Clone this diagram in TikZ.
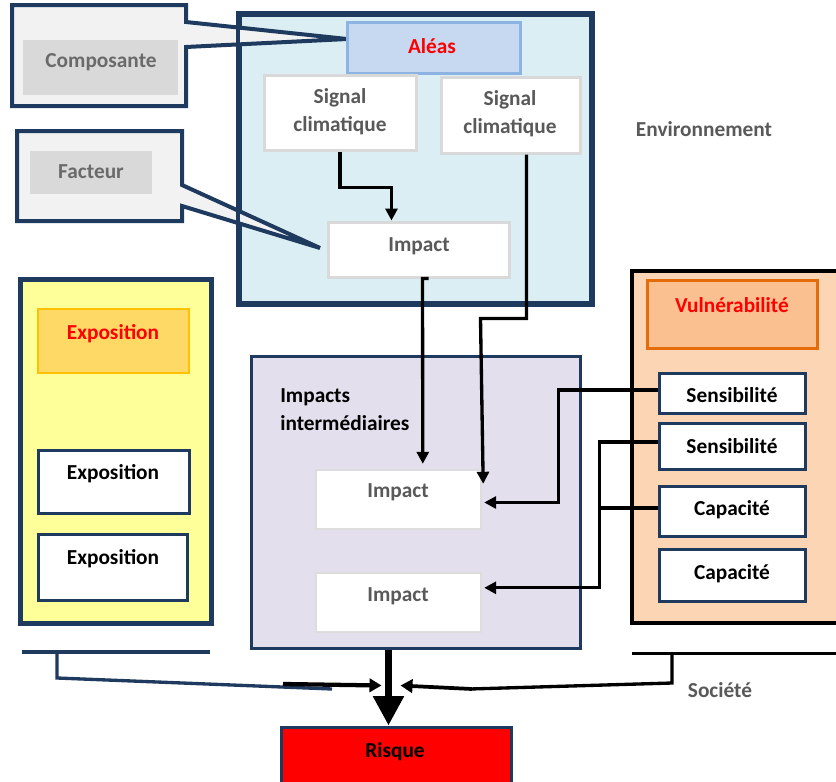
\documentclass[tikz,border=0pt]{standalone}
\usepackage{fontspec}
\setmainfont{Carlito}
\usetikzlibrary{arrows.meta,fit,calc}
\definecolor{navy}{HTML}{1F3A5F}
\definecolor{envfill}{HTML}{DAEEF3}
\definecolor{aleafill}{HTML}{C6D9F1}
\definecolor{aleadraw}{HTML}{8DB3E2}
\definecolor{softgray}{HTML}{D9D9D9}
\definecolor{callfill}{HTML}{F2F2F2}
\definecolor{txtgray}{HTML}{595959}
\definecolor{calltxt}{HTML}{6A6A6A}
\definecolor{expfill}{HTML}{FFFF99}
\definecolor{exphfill}{HTML}{FFD966}
\definecolor{exphdraw}{HTML}{FFC000}
\definecolor{purpfill}{HTML}{E4DFEC}
\definecolor{vulfill}{HTML}{FCD5B5}
\definecolor{vulhfill}{HTML}{FAC090}
\definecolor{vulhdraw}{HTML}{E46C0A}
\definecolor{impdraw}{HTML}{DDDDDD}
\begin{document}
\begin{tikzpicture}[x=0.75pt,y=-0.75pt,
  bx/.style={fit={#1}, inner sep=0pt, rectangle},
  txt/.style={font=\fontsize{16}{21}\selectfont\bfseries, align=center, inner sep=0pt},
  arr/.style={line width=2.5pt, -{Triangle[length=9pt,width=9pt]}},
  plain/.style={line width=2.5pt},
]
\useasboundingbox (0,0) rectangle (836,782);

% Environment
\node[bx={(240,15) (591,303)}, fill=envfill, draw=navy, line width=3pt] (env) {};
% Callouts
\draw[fill=callfill, draw=navy, line width=3pt, line join=miter]
  (12,5) -- (186,5) -- (186,22) -- (347,39) -- (186,47) -- (186,106) -- (12,106) -- cycle;
\draw[fill=callfill, draw=navy, line width=3pt, line join=miter]
  (17,131) -- (182,131) -- (182,185) -- (320,248) -- (182,206) -- (182,221) -- (17,221) -- cycle;
\draw[navy, line width=3pt] (env.north west) rectangle (env.south east);
\node[bx={(23,40) (178,95)}, fill=softgray] (compbox) {};
\node[txt, text=calltxt] (comptxt) at (101,62) {Composante};
\node[bx={(30,151) (152,194)}, fill=softgray] (factbox) {};
\node[txt, text=calltxt] (facttxt) at (91,172) {Facteur};

\node[bx={(347,22) (520,73)}, fill=aleafill, draw=aleadraw, line width=2.25pt] (alea) {};
\node[txt, text=red] (aleatxt) at (432,46) {Aléas};
\node[bx={(264,75) (416,150)}, fill=white, draw=softgray, line width=2.25pt] (sc1) {};
\node[txt, text=txtgray] (sc1txt) at (340,112) {Signal\\climatique};
\node[bx={(441,77) (580,153)}, fill=white, draw=softgray, line width=2.25pt] (sc2) {};
\node[txt, text=txtgray] (sc2txt) at (510,114) {Signal\\climatique};
\node[bx={(328,222) (509,277)}, fill=white, draw=softgray, line width=2.25pt] (impA) {};
\node[txt, text=txtgray] (impAtxt) at (419,246) {Impact};
\node[txt, text=txtgray] (envtxt) at (704,129) {Environnement};

% Exposition
\node[bx={(20,279) (211,623)}, fill=expfill, draw=navy, line width=3.75pt] (expcol) {};
\node[bx={(38,309) (189,373)}, fill=exphfill, draw=exphdraw, line width=2pt] (exph) {};
\node[txt, text=red] (exphtxt) at (113,334) {Exposition};
\node[bx={(38,450) (189,513)}, fill=white, draw=navy, line width=2.25pt] (exp1) {};
\node[txt] (exp1txt) at (113,474) {Exposition};
\node[bx={(38,534) (187,600)}, fill=white, draw=navy, line width=2.25pt] (exp2) {};
\node[txt] (exp2txt) at (113,559) {Exposition};
\coordinate (expl1) at (22,652);
\coordinate (expl2) at (210,652);
\draw[navy, line width=2.5pt] (expl1) -- (expl2);

% Impacts intermediaires
\node[bx={(251,356) (580,648)}, fill=purpfill, draw=navy, line width=2.25pt] (purp) {};
\node[txt, align=left, anchor=west] (purptxt) at (280,410) {Impacts\\intermédiaires};
\node[bx={(316,470) (481,529)}, fill=white, draw=impdraw, line width=1.8pt] (impB) {};
\node[txt, text=txtgray] (impBtxt) at (398,492) {Impact};
\node[bx={(316,573) (481,632)}, fill=white, draw=impdraw, line width=1.8pt] (impC) {};
\node[txt, text=txtgray] (impCtxt) at (398,596) {Impact};

% Vulnerabilite
\node[bx={(632,271) (846,623)}, fill=vulfill, draw=black, line width=2.5pt] (vul) {};
\node[bx={(647,280) (817,348)}, fill=vulhfill, draw=vulhdraw, line width=2.25pt] (vulh) {};
\node[txt, text=red] (vulhtxt) at (732,305) {Vulnérabilité};
\node[bx={(659,373) (805,413)}, fill=white, draw=navy, line width=2.25pt] (sens1) {};
\node[txt] (sens1txt) at (732,395) {Sensibilité};
\node[bx={(659,423) (805,469)}, fill=white, draw=navy, line width=2.25pt] (sens2) {};
\node[txt] (sens2txt) at (732,446) {Sensibilité};
\node[bx={(659,486) (805,536)}, fill=white, draw=navy, line width=2.25pt] (cap1) {};
\node[txt] (cap1txt) at (732,510) {Capacité};
\node[bx={(659,549) (805,601)}, fill=white, draw=navy, line width=2.25pt] (cap2) {};
\node[txt] (cap2txt) at (732,574) {Capacité};
\coordinate (socl1) at (632,653);
\coordinate (socl2) at (846,653);
\draw[black, line width=2.25pt] (socl1) -- (socl2);
\node[txt, text=txtgray] (soctxt) at (720,690) {Société};

% Risque
\node[bx={(281,727) (511,790)}, fill=red, draw=navy, line width=2.25pt] (risque) {};
\node[txt] (risquetxt) at (395,752) {Risque};

% Connectors
\draw[arr] (sc1.south) -- ++(0,36) -| ($(impA.north west)+(65,0)$);
\draw[arr] ($(impA.south west)+(102,0)$) -- ++(-6,0) -- ($(impB.north west)+(108,-5)$);
\draw[arr] ($(sc2.south west)+(87,0)$) -- ++(0,164) -- ++(-46,0) -- ($(impB.north east)+(1,15)$);
\draw[arr] ($(sens1.west)+(0,-3)$) -- ++(-99,0) |- ($(impB.east)+(2,3)$);
\draw[arr] ($(sens2.west)+(0,-4)$) -- ++(-58,0) |- ($(impC.north east)+(2,16)$);
\draw[plain] ($(cap1.west)+(0,-3)$) -- ++(-58,0);
% bottom
\draw[line width=5.25pt, -{Triangle[length=22pt,width=22pt]}] ($(purp.south west)+(139,0)$) -- ($(risque.north west)+(109,0)$);
\draw[navy, line width=2.5pt] ($(expl1)+(35,0)$) -- ++(0,26) -- (332,689);
\draw[line width=3.2pt, -{Triangle[length=9pt,width=10pt]}] (283,684) -- ($(risque.north west)+(102,-40)$);
\draw[line width=2.5pt] ($(socl1)+(40,0)$) -- ++(0,30) -- (470,689);
\draw[line width=2.8pt, -{Triangle[length=9pt,width=10pt]}] (472,689) -- ($(risque.north west)+(121,-40)$);
\end{tikzpicture}
\end{document}
